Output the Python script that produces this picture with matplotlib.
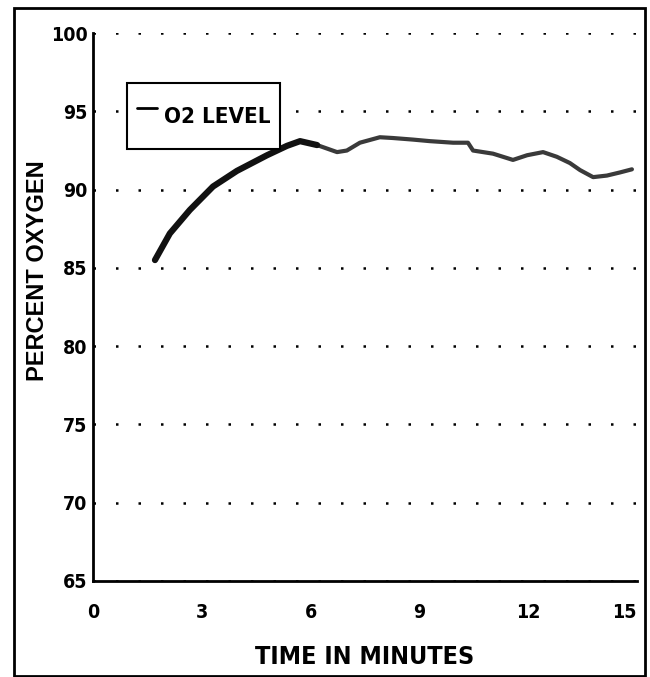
import matplotlib
matplotlib.use("Agg")
import matplotlib.pyplot as plt
from matplotlib.patches import Rectangle

# O2 level trace
time_min = [1.71, 2.12, 2.67, 3.31, 3.97, 4.80, 5.35, 5.71, 6.18, 6.73, 7.0, 7.36,
            7.91, 8.27, 8.82, 9.29, 9.93, 10.34, 10.48, 11.03, 11.58, 11.97, 12.41,
            12.79, 13.15, 13.43, 13.79, 14.17, 14.53, 14.86]
o2_pct = [85.5, 87.2, 88.7, 90.2, 91.2, 92.2, 92.8, 93.1, 92.85, 92.4, 92.5, 93.0,
          93.35, 93.3, 93.2, 93.1, 93.0, 93.0, 92.5, 92.3, 91.9, 92.2, 92.4,
          92.1, 91.7, 91.25, 90.8, 90.9, 91.1, 91.3]
x_ticks = [0, 3, 6, 9, 12, 15]
y_ticks = [65, 70, 75, 80, 85, 90, 95, 100]
series_label = "O2 LEVEL"

cond = dict(family="DejaVu Sans", stretch="condensed", weight="bold")
wide = ["Liberation Sans", "DejaVu Sans"]

fig = plt.figure(figsize=(6.5, 6.77), dpi=100)
ax = fig.add_axes([0.143, 0.142, 0.837, 0.809])

# thick early part, thinner ragged tail
split = 9
ax.plot(time_min, o2_pct, color="#3a3a3a", lw=3, solid_capstyle="round", label=series_label)
ax.plot(time_min[:split], o2_pct[:split], color="#111111", lw=4.5, solid_capstyle="round")

ax.set_xlim(0, 15)
ax.set_ylim(65, 100)
ax.set_xticks(x_ticks)
ax.set_yticks(y_ticks)
ax.set_xticklabels([str(t) for t in x_ticks], fontsize=14, **cond)
ax.set_yticklabels([str(t) for t in y_ticks], fontsize=14, **cond)
ax.tick_params(axis="x", length=0, pad=16)
ax.tick_params(axis="y", length=0, pad=4)
ax.get_xticklabels()[-1].set_ha("right")

ax.yaxis.grid(True, color="black", lw=1.8, linestyle=(0, (1, 8)))
ax.set_axisbelow(True)
for side in ["top", "right"]:
    ax.spines[side].set_visible(False)
for side in ["left", "bottom"]:
    ax.spines[side].set_linewidth(2)

leg = ax.legend(loc="upper left", bbox_to_anchor=(0.0625, 0.909), borderaxespad=0,
                handlelength=0.9, handleheight=2.8, handletextpad=0.3, borderpad=0.45,
                fancybox=False, framealpha=1, edgecolor="black",
                prop=dict(size=16, **cond))
leg.get_frame().set_linewidth(1.5)
for h in leg.get_lines():
    h.set_linewidth(2)
    h.set_color("black")

fig.text(0.561, 0.030, "TIME IN MINUTES", fontsize=18, ha="center", va="center", **cond)
fig.text(0.058, 0.600, "PERCENT OXYGEN", family=wide, fontweight="bold",
         fontsize=17, ha="center", va="center", rotation=90)

fig.patches.append(Rectangle((14 / 650, 1 - 676 / 677), 631 / 650, 668 / 677,
                             transform=fig.transFigure, fill=False, lw=2,
                             edgecolor="black"))

fig.savefig("out.png", dpi=100)
